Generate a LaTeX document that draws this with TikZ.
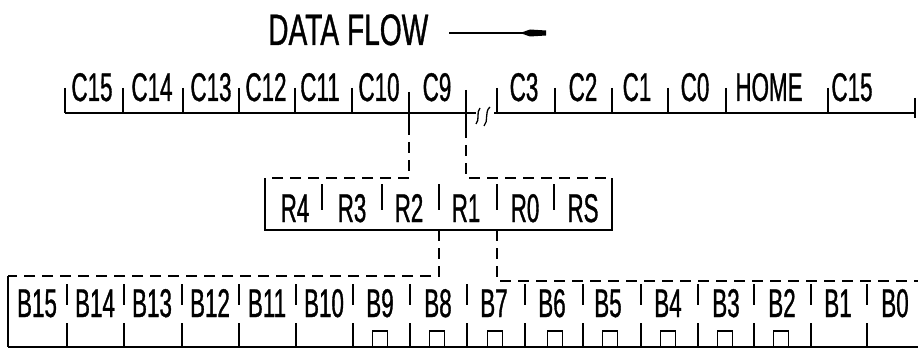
\documentclass[tikz,border=0pt]{standalone}
\usepackage{fontspec}
\newfontfamily\hand[FakeStretch=0.56,FakeBold=0.8]{Liberation Sans}
\newfontfamily\handwide[FakeStretch=0.64,FakeBold=0.8]{Liberation Sans}
\begin{document}
\begin{tikzpicture}[x=1pt,y=-1pt,
  lbl/.style={anchor=base, inner sep=0pt, font={\hand\fontsize{40pt}{40pt}\selectfont}},
  tick/.style={line width=1.3pt},
  baseline/.style={line width=2.6pt},
  dline/.style={line width=1.2pt, dash pattern=on 11pt off 7pt},
  frame/.style={line width=1.8pt}]
\useasboundingbox (0,0) rectangle (918,350);

% ---- title ----
\node[anchor=base west, inner sep=0pt, font={\handwide\fontsize{44pt}{44pt}\selectfont}] (df) at (268,45) {DATA FLOW};
\coordinate (a0) at (449,33);
\coordinate (a1) at (522,33);
\draw[line width=1.2pt] (a0) -- (a1);
\fill (520,33) -- (530,29.5) -- (546,30.5) -- (546,35.5) -- (530,36.5) -- cycle;

% ---- C register ----
\draw[baseline] (65,113) -- (476,113);
\draw[baseline] (494,113) -- (915,113);
\foreach \x in {65,123,183,239,295,352,497,555,612,668,726,828}
  \draw[tick] (\x,88) -- (\x,113);
\coordinate (cA) at (409,124);
\coordinate (cB) at (466,127);
\draw[tick] (409,92) -- (cA);
\draw[tick] (466,90) -- (cB);
\draw[line width=2.4pt] (915,98) -- (915,118);
\draw[tick] (476,124) .. controls (480,120) and (476,112) .. (480,108);
\draw[tick] (484,126) .. controls (489,121) and (484,112) .. (490,107);
\foreach \x/\t/\n in {92/C15/c15,152/C14/c14,211/C13/c13,266/C12/c12,320/C11/c11,379/C10/c10,437/C9/c9,
  524/C3/c3,583/C2/c2,637/C1/c1,695/C0/c0,769/HOME/home,852/C15/c15b}
  \node[lbl] (\n) at (\x,101) {\t};

% ---- R register ----
\coordinate (rTL) at (265,178);
\coordinate (rTR) at (612,178);
\coordinate (rBL) at (265,230);
\coordinate (rBR) at (612,230);
\draw[dline] (cA) -- (409,178) -- (rTL);
\draw[dline] (cB) -- (466,178) -- (rTR);
\draw[frame] (rTL) -- (rBL) -- (rBR) -- (rTR);
\foreach \x in {322,382,439,497,554}
  \draw[tick] (\x,184) -- (\x,210);
\foreach \x/\t/\n in {295/R4/r4,352/R3/r3,409/R2/r2,466/R1/r1,525/R0/r0,583/RS/rs}
  \node[lbl] (\n) at (\x,222) {\t};

% ---- B register ----
\coordinate (rD1) at (439,230);
\coordinate (rD2) at (497,230);
\coordinate (bTL) at (8,276);
\coordinate (bTR) at (918,281);
\draw[dline] (rD1) -- (439,276) -- (bTL);
\draw[dline] (rD2) -- (497,281) -- (bTR);
\draw[tick] (bTL) -- (8,347);
\draw[line width=2.2pt] (8,347) -- (918,347);
\foreach \x in {67,124,182,239,296,353,410,467,525,583,641,698,754,811,867}{
  \draw[tick] (\x,284) -- (\x,305);
  \draw[tick] (\x,323) -- (\x,347);
}
\foreach \x in {380,437,495,555,610,668,725,781}
  \draw[tick] (\x-7.5,347) -- (\x-7.5,331) -- (\x+7.5,331) -- (\x+7.5,347);
\foreach \x/\t/\n in {37/B15/b15,95/B14/b14,152/B13/b13,210/B12/b12,267/B11/b11,324/B10/b10,380/B9/b9,438/B8/b8,
  494/B7/b7,552/B6/b6,608/B5/b5,668/B4/b4,726/B3/b3,782/B2/b2,838/B1/b1,895/B0/b0}
  \node[lbl] (\n) at (\x,317) {\t};
\end{tikzpicture}
\end{document}
